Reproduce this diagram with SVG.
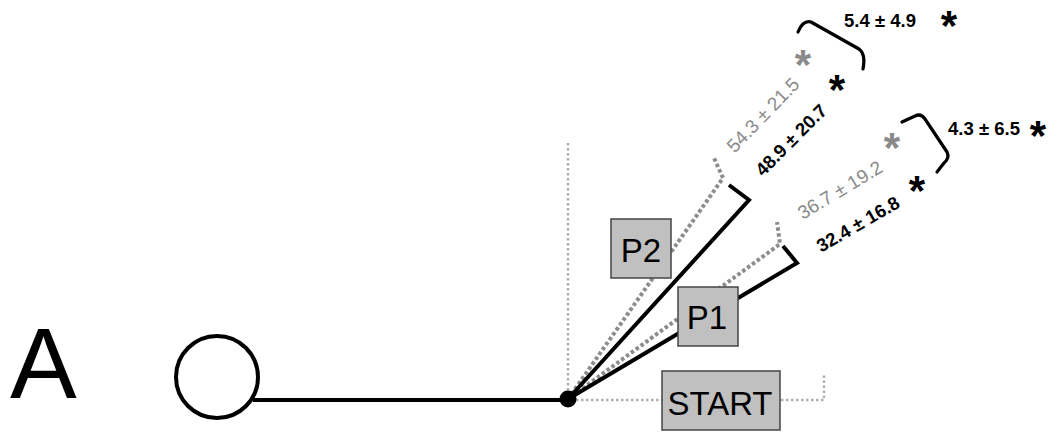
<svg xmlns="http://www.w3.org/2000/svg" width="1055" height="433" viewBox="0 0 1055 433">
<style>
.axis{fill:none;stroke:#b0b0b0;stroke-width:2.5;stroke-dasharray:2.5 2.5}
.solid{fill:none;stroke:#000;stroke-width:4;stroke-linejoin:miter}
.dot{fill:none;stroke:#8c8c8c;stroke-width:4;stroke-dasharray:3.5 2.5}
.brk{fill:none;stroke:#000;stroke-width:3.2;stroke-linecap:round;stroke-linejoin:round}
.box{fill:#c0c0c0;stroke:#444;stroke-width:1.5}
.btxt{font-family:"Liberation Sans",Arial,sans-serif;font-size:33px;fill:#000;text-anchor:middle}
.lg{font-family:"Liberation Sans",Arial,sans-serif;font-size:19px;fill:#8a8a8a;text-anchor:middle}
.lb{font-family:"Liberation Sans",Arial,sans-serif;font-size:18.5px;font-weight:bold;fill:#000;text-anchor:middle}
.star{font-family:"Liberation Sans",Arial,sans-serif;font-size:42px;font-weight:bold;text-anchor:middle}
</style>
<text x="10" y="398" font-family="Liberation Sans, Arial, sans-serif" font-size="100" fill="#000">A</text>
<g id="connectors">
<polyline class="axis" points="568,143 568,400 824,400 824,375"/>
<line class="solid" x1="253" y1="400" x2="568" y2="400"/>
<polyline class="dot" points="568,399 723,178 714,158"/>
<polyline class="dot" points="568,399 780,244 777,222"/>
<polyline class="solid" points="568,399 749,200 729,185"/>
<polyline class="solid" points="568,399 797,263 783,246"/>
<path class="brk" d="M798,32 Q803,20 811,22 L859,49 Q866,54 863,69"/>
<path class="brk" d="M902,122 L915,116 Q921,113 925,119 L947,152 Q950,158 944,163 L937,172"/>
</g>
<g id="origin">
<circle cx="217" cy="377" r="41" fill="#fff" stroke="#000" stroke-width="4"/>
</g>
<g id="pivot">
<circle cx="568" cy="399" r="8.5" fill="#000"/>
</g>
<g id="start">
<rect class="box" x="662" y="371" width="118" height="59"/>
<text class="btxt" x="720" y="415" font-size="37" textLength="105" lengthAdjust="spacingAndGlyphs">START</text>
</g>
<g id="p1">
<rect class="box" x="678" y="287" width="60" height="59"/>
<text class="btxt" x="707" y="329">P1</text>
</g>
<g id="p2">
<rect class="box" x="611" y="219" width="60" height="59"/>
<text class="btxt" x="641" y="262">P2</text>
</g>
<g id="labels">
<text class="lg" transform="translate(763,115) rotate(-46)" y="6.5">54.3 ± 21.5</text>
<text class="lb" transform="translate(791,140) rotate(-45)" y="6.5">48.9 ± 20.7</text>
<text class="lg" transform="translate(840,190) rotate(-31)" y="6.5">36.7 ± 19.2</text>
<text class="lb" transform="translate(858,224) rotate(-30)" y="6.5">32.4 ± 16.8</text>
<text class="star" x="803" y="79" fill="#8a8a8a">*</text>
<text class="star" x="837" y="104" fill="#000">*</text>
<text class="star" x="892" y="162" fill="#8a8a8a">*</text>
<text class="star" x="917" y="205" fill="#000">*</text>
<text class="lb" x="880" y="27" font-size="19.5">5.4 ± 4.9</text>
<text class="star" x="949" y="40" fill="#000">*</text>
<text class="lb" x="984" y="135" font-size="19.5">4.3 ± 6.5</text>
<text class="star" x="1038" y="150" fill="#000">*</text>
</g>
</svg>
